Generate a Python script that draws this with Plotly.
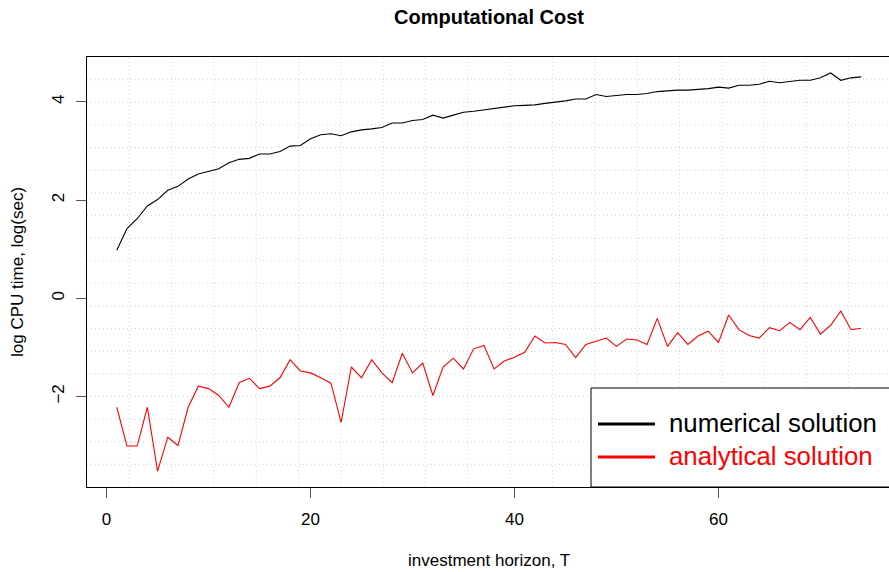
import plotly.graph_objects as go

# ---- data ----
T = list(range(1, 75))
numerical = [0.98, 1.42, 1.62, 1.88, 2.01, 2.20, 2.28, 2.43, 2.53, 2.59,
             2.64, 2.76, 2.83, 2.85, 2.94, 2.94, 2.99, 3.10, 3.11, 3.25,
             3.33, 3.35, 3.31, 3.39, 3.43, 3.45, 3.48, 3.57, 3.57, 3.62,
             3.64, 3.73, 3.67, 3.73, 3.79, 3.81, 3.84, 3.86, 3.90, 3.92,
             3.93, 3.94, 3.97, 3.99, 4.02, 4.06, 4.06, 4.15, 4.11, 4.13,
             4.15, 4.15, 4.17, 4.21, 4.23, 4.24, 4.24, 4.25, 4.27, 4.30,
             4.28, 4.34, 4.34, 4.36, 4.42, 4.39, 4.42, 4.44, 4.44, 4.49,
             4.59, 4.44, 4.49, 4.51]
analytical = [-2.22, -3.01, -3.01, -2.22, -3.52, -2.83, -3.00, -2.22, -1.79, -1.84,
              -1.98, -2.22, -1.72, -1.63, -1.84, -1.79, -1.62, -1.25, -1.48, -1.52,
              -1.62, -1.73, -2.53, -1.40, -1.62, -1.25, -1.52, -1.72, -1.12, -1.52,
              -1.32, -1.98, -1.40, -1.22, -1.44, -1.03, -0.96, -1.44, -1.28, -1.20,
              -1.10, -0.77, -0.91, -0.90, -0.94, -1.21, -0.94, -0.87, -0.81, -0.98,
              -0.83, -0.85, -0.94, -0.41, -0.98, -0.70, -0.94, -0.77, -0.67, -0.90,
              -0.34, -0.64, -0.76, -0.81, -0.60, -0.66, -0.49, -0.64, -0.39, -0.73,
              -0.55, -0.26, -0.64, -0.61]
series_names = ["numerical solution", "analytical solution"]
series_colors = ["black", "red"]
x_ticks = [0, 20, 40, 60]
y_ticks = [-2, 0, 2, 4]
title = "Computational Cost"
x_title = "investment horizon, T"
y_title = "log CPU time, log(sec)"

# ---- layout geometry (R-style 4% extended ranges) ----
W, H = 889, 572
L, R_edge, TOP, BOT = 87, 891, 57, 487   # R plot region in px (right edge beyond page)
xmin, xmax = min(T), max(T)
allv = numerical + analytical
ymin, ymax = min(allv), max(allv)
xlo = xmin - 0.04 * (xmax - xmin)
xhi = xmax + 0.04 * (xmax - xmin)
ylo = ymin - 0.04 * (ymax - ymin)
yhi = ymax + 0.04 * (ymax - ymin)
ppu = (R_edge - L) / (xhi - xlo)
x_vis_hi = xlo + (W - L) / ppu

def px2paper_x(px):
    return (px - L) / (W - L)

def px2paper_y(py):
    return (BOT - py) / (BOT - TOP)

fig = go.Figure()
for name, vals, col in zip(series_names, [numerical, analytical], series_colors):
    fig.add_trace(go.Scatter(x=T, y=vals, mode="lines", name=name,
                             line=dict(color=col, width=1.1), showlegend=False))

shapes = []
# grid: 19 equal cells (R grid(nx, ny))
n = 19
for k in range(1, n):
    gx = xlo + k * (xhi - xlo) / n
    if gx < x_vis_hi:
        shapes.append(dict(type="line", xref="x", yref="paper", x0=gx, x1=gx, y0=0, y1=1,
                           line=dict(color="#D3D3D3", width=1, dash="1px,3px"), layer="below"))
    gy = ylo + k * (yhi - ylo) / n
    shapes.append(dict(type="line", xref="paper", yref="y", x0=0, x1=1, y0=gy, y1=gy,
                       line=dict(color="#D3D3D3", width=1, dash="1px,3px"), layer="below"))

# legend box (bottomright)
lx0, lx1, ly0, ly1 = 591, 891, 388, 487
shapes.append(dict(type="rect", xref="paper", yref="paper",
                   x0=px2paper_x(lx0), x1=px2paper_x(lx1), y0=px2paper_y(ly1), y1=px2paper_y(ly0),
                   fillcolor="white", line=dict(color="black", width=1), layer="above"))
annotations = []
leg_y = [424, 457]
for name, col, ly in zip(series_names, series_colors, leg_y):
    shapes.append(dict(type="line", xref="paper", yref="paper",
                       x0=px2paper_x(598), x1=px2paper_x(655), y0=px2paper_y(ly), y1=px2paper_y(ly),
                       line=dict(color=col, width=3), layer="above"))
    annotations.append(dict(text=name, xref="paper", yref="paper", x=px2paper_x(667), y=px2paper_y(ly - 1),
                            xanchor="left", yanchor="middle", showarrow=False,
                            font=dict(size=25.8, color=col, family="Liberation Sans, Arial")))

mid_x = px2paper_x((L + R_edge) / 2)
annotations.append(dict(text="<b>" + title + "</b>", xref="paper", yref="paper", x=mid_x,
                        y=px2paper_y(17), xanchor="center", yanchor="middle", showarrow=False,
                        font=dict(size=20, color="black", family="Liberation Sans, Arial")))
annotations.append(dict(text=x_title, xref="paper", yref="paper", x=mid_x,
                        y=px2paper_y(560), xanchor="center", yanchor="middle", showarrow=False,
                        font=dict(size=17, color="black", family="Liberation Sans, Arial")))
annotations.append(dict(text=y_title, xref="paper", yref="paper", x=px2paper_x(17),
                        y=px2paper_y((TOP + BOT) / 2), xanchor="center", yanchor="middle",
                        textangle=-90, showarrow=False,
                        font=dict(size=17, color="black", family="Liberation Sans, Arial")))

fig.update_layout(
    width=W, height=H,
    margin=dict(l=L, r=0, t=TOP, b=H - BOT, pad=0),
    paper_bgcolor="white", plot_bgcolor="white",
    font=dict(family="Liberation Sans, Arial", size=17, color="black"),
    shapes=shapes, annotations=annotations, showlegend=False,
    xaxis=dict(range=[xlo, x_vis_hi], tickvals=x_ticks, ticks="outside", ticklen=10,
               tickcolor="#555555", showgrid=False, zeroline=False,
               showline=True, linecolor="black", linewidth=1, mirror=True,
               ticklabelstandoff=7),
    yaxis=dict(range=[ylo, yhi], tickvals=y_ticks, ticktext=["\u22122", "0", "2", "4"],
               ticks="outside", ticklen=10, tickangle=-90,
               tickcolor="#555555", showgrid=False, zeroline=False,
               showline=True, linecolor="black", linewidth=1, mirror=True,
               ticklabelstandoff=5),
)
fig.write_html("out.html")
